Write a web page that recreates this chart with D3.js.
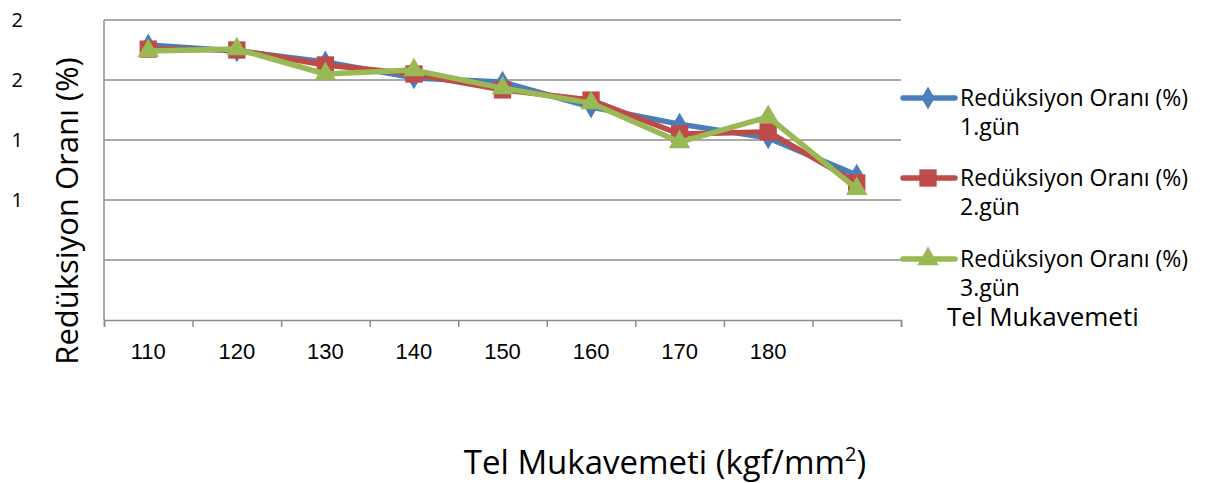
<!DOCTYPE html>
<html>
<head>
<meta charset="utf-8">
<script src="https://cdn.jsdelivr.net/npm/d3@7"></script>
<style>
  body { margin: 0; background: #fff; }
  text { font-family: "Open Sans", "Liberation Sans", sans-serif; fill: #000; }
</style>
</head>
<body>
<svg id="chart" width="1208" height="483"></svg>
<script>
// categories on the x axis (last one has no label in the original)
const categories = [110, 120, 130, 140, 150, 160, 170, 180, 190];
const xTickLabels = ["110", "120", "130", "140", "150", "160", "170", "180", ""];

// y ticks, and the rounded labels the original shows
const yTicks = [0.8, 1.0, 1.2, 1.4, 1.6, 1.8];
const yTickLabels = ["", "", "1", "1", "2", "2"];

const day1 = [1.717, 1.697, 1.660, 1.607, 1.593, 1.510, 1.453, 1.407, 1.283];
const day2 = [1.703, 1.700, 1.650, 1.620, 1.567, 1.533, 1.420, 1.427, 1.257];
const day3 = [1.697, 1.703, 1.620, 1.633, 1.573, 1.523, 1.393, 1.477, 1.237];

const seriesNames = ["Redüksiyon Oranı (%) 1.gün", "Redüksiyon Oranı (%) 2.gün", "Redüksiyon Oranı (%) 3.gün"];
const seriesColors = ["#4a7ebb", "#be4b48", "#98b954"];
const seriesMarkers = [d3.symbolDiamond, d3.symbolSquare, d3.symbolTriangle];
const markerSizes = [150, 300, 200];
const seriesValues = [day1, day2, day3];

const svg = d3.select("#chart");
const plot = { left: 104, right: 901, top: 20, bottom: 320 };

const x = d3.scaleBand()
  .domain(categories)
  .range([plot.left, plot.right])
  .padding(0);

const xEdge = d3.scaleLinear()
  .domain([0, categories.length])
  .range([plot.left, plot.right]);

const y = d3.scaleLinear()
  .domain([0.8, 1.8])
  .range([plot.bottom, plot.top]);

// gridlines
svg.append("g")
  .selectAll("line")
  .data(yTicks.slice(1))
  .join("line")
  .attr("x1", plot.left)
  .attr("x2", plot.right)
  .attr("y1", d => y(d))
  .attr("y2", d => y(d))
  .attr("stroke", "#8c8c8c")
  .attr("stroke-width", 1.5);

// left axis line
svg.append("line")
  .attr("x1", plot.left).attr("x2", plot.left)
  .attr("y1", plot.top).attr("y2", plot.bottom)
  .attr("stroke", "#8c8c8c").attr("stroke-width", 1.5);

// bottom axis with ticks at category borders
const xAxisEdges = svg.append("g")
  .attr("transform", `translate(0,${plot.bottom})`)
  .call(d3.axisBottom(xEdge).tickValues(d3.range(categories.length + 1)).tickSize(7).tickFormat(""));
xAxisEdges.select(".domain").attr("stroke", "#8c8c8c").attr("stroke-width", 1.5);
xAxisEdges.selectAll(".tick line").attr("stroke", "#8c8c8c").attr("stroke-width", 1.5);

// x labels
const xAxisLabels = svg.append("g")
  .attr("transform", `translate(0,${plot.bottom})`)
  .call(d3.axisBottom(x).tickSize(0).tickFormat((d, i) => xTickLabels[i]));
xAxisLabels.select(".domain").remove();
xAxisLabels.selectAll("text")
  .attr("y", 23)
  .style("font-size", "22px")
  .style("font-family", "'Liberation Sans Narrow', 'Liberation Sans', sans-serif")
  .attr("fill", "#000");

// y labels
const yAxis = svg.append("g")
  .attr("transform", "translate(23,0)")
  .call(d3.axisLeft(y).tickValues(yTicks).tickSize(0).tickFormat((d, i) => yTickLabels[i]));
yAxis.select(".domain").remove();
yAxis.selectAll("text")
  .attr("x", 0)
  .attr("text-anchor", "end")
  .style("font-size", "20px")
  .attr("fill", "#000");

// series lines and markers
seriesValues.forEach((vals, s) => {
  const line = d3.line()
    .x((d, i) => x(categories[i]) + x.bandwidth() / 2)
    .y(d => y(d));

  svg.append("path")
    .datum(vals)
    .attr("d", line)
    .attr("fill", "none")
    .attr("stroke", seriesColors[s])
    .attr("stroke-width", 5.5)
    .attr("stroke-linejoin", "round");

  svg.append("g")
    .selectAll("path")
    .data(vals)
    .join("path")
    .attr("transform", (d, i) => `translate(${x(categories[i]) + x.bandwidth() / 2},${y(d)})`)
    .attr("d", d3.symbol().type(seriesMarkers[s]).size(markerSizes[s]))
    .attr("fill", seriesColors[s]);
});

// legend
const legend = svg.append("g");
const legendY = [98, 178, 259];
seriesNames.forEach((name, s) => {
  const g = legend.append("g").attr("transform", `translate(0,${legendY[s]})`);
  g.append("line")
    .attr("x1", 903).attr("x2", 955)
    .attr("y1", 0).attr("y2", 0)
    .attr("stroke", seriesColors[s])
    .attr("stroke-width", 5.5)
    .attr("stroke-linecap", "round");
  g.append("path")
    .attr("transform", "translate(928,0)")
    .attr("d", d3.symbol().type(seriesMarkers[s]).size(markerSizes[s]))
    .attr("fill", seriesColors[s]);
  const parts = name.split(" ");
  g.append("text")
    .attr("x", 960).attr("y", 8)
    .style("font-size", "23px")
    .text(parts.slice(0, 3).join(" "));
  g.append("text")
    .attr("x", 960).attr("y", 37)
    .style("font-size", "23px")
    .text(parts[3]);
});

svg.append("text")
  .attr("x", 947).attr("y", 326)
  .style("font-size", "26px")
  .text("Tel Mukavemeti");

// axis titles
svg.append("text")
  .attr("transform", "translate(78,211) rotate(-90)")
  .attr("text-anchor", "middle")
  .style("font-size", "31px")
  .text("Redüksiyon Oranı (%)");

const xt = svg.append("text")
  .attr("x", 665).attr("y", 474)
  .attr("text-anchor", "middle")
  .style("font-size", "33px")
  .text("Tel Mukavemeti (kgf/mm");
xt.append("tspan").attr("dy", -13).style("font-size", "20px").text("2");
xt.append("tspan").attr("dy", 13).text(")");
</script>
</body>
</html>
